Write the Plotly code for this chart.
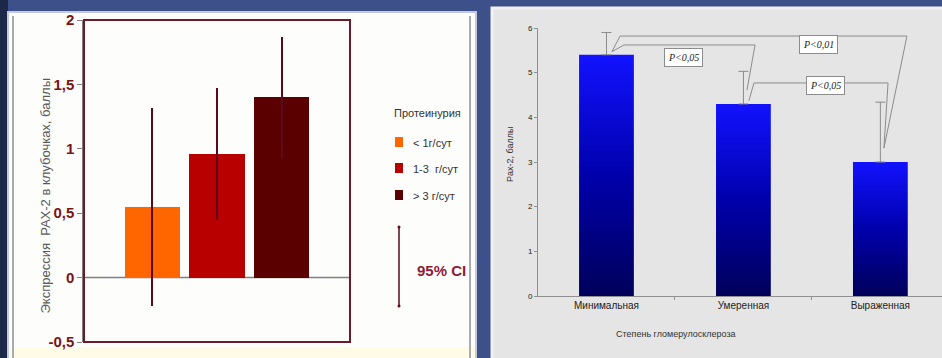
import plotly.graph_objects as go

# ---- Left chart: PAX-2 expression by proteinuria group (mean and 95% CI) ----
protein_groups = ["< 1г/сут", "1-3  г/сут", "> 3 г/сут"]
pax2_mean = [0.55, 0.96, 1.40]
ci_low = [-0.22, 0.45, 0.93]
ci_high = [1.32, 1.47, 1.87]
left_ticks = [-0.5, 0, 0.5, 1, 1.5, 2]
left_ticktext = ["-0,5", "0", "0,5", "1", "1,5", "2"]

# ---- Right chart: PAX-2 score by glomerulosclerosis degree ----
sclerosis_levels = ["Минимальная", "Умеренная", "Выраженная"]
pax2_score = [5.4, 4.3, 3.0]
score_err = [0.5, 0.73, 1.34]
right_ticks = [0, 1, 2, 3, 4, 5, 6]
# pairwise comparisons: (bar a, bar b, label, bracket level)
comparisons = [(0, 1, "P&lt;0,05", 5.62), (0, 2, "P&lt;0,01", 5.82), (1, 2, "P&lt;0,05", 4.77)]

W, H = 942, 358
group_colors = ["#ff6600", "#b80000", "#5a0000"]
ci_color = "#5a0a1a"


def px(x):
    return x / W


def py(y):
    return 1 - y / H


fig = go.Figure()

# left bars with confidence intervals
fig.add_trace(go.Bar(
    x=[0, 1, 2], y=pax2_mean, width=0.85,
    marker=dict(color=group_colors, line=dict(width=0)),
    error_y=dict(type="data", symmetric=False,
                 array=[h - m for h, m in zip(ci_high, pax2_mean)],
                 arrayminus=[m - l for m, l in zip(pax2_mean, ci_low)],
                 color=ci_color, thickness=1.6, width=0),
    xaxis="x", yaxis="y", showlegend=False, hoverinfo="skip",
))

# right bars: vertical blue gradient fill
bw = 0.4
for i, v in enumerate(pax2_score):
    fig.add_trace(go.Scatter(
        x=[i - bw / 2, i - bw / 2, i + bw / 2, i + bw / 2, i - bw / 2],
        y=[0, v, v, 0, 0],
        mode="lines", line=dict(width=0), fill="toself",
        fillgradient=dict(type="vertical",
                          colorscale=[[0, "#00005a"], [0.5, "#0000ac"], [1, "#1212ff"]]),
        xaxis="x2", yaxis="y2", showlegend=False, hoverinfo="skip",
    ))

# upper error bars for right bars
fig.add_trace(go.Scatter(
    x=[0, 1, 2], y=pax2_score, mode="markers",
    marker=dict(size=1, color="rgba(0,0,0,0)"),
    error_y=dict(type="data", symmetric=False, array=score_err,
                 arrayminus=[0, 0, 0], color="#8a8a8a", thickness=1, width=5),
    xaxis="x2", yaxis="y2", showlegend=False, hoverinfo="skip",
))

# comparison brackets
right_dx = {(0, 1): 0.085, (0, 2): 0.194, (1, 2): 0.056}
left_dx = {(0, 1): 0.128, (0, 2): 0.099, (1, 2): 0.077}
for a, b, lab, lvl in comparisons:
    xs = [a + 0.04, a + left_dx[(a, b)], b + right_dx[(a, b)], b + 0.026]
    ys = [pax2_score[a] + 0.07, lvl, lvl, pax2_score[b] + 0.31]
    fig.add_trace(go.Scatter(
        x=xs, y=ys, mode="lines", line=dict(color="#8c8c8c", width=1),
        xaxis="x2", yaxis="y2", showlegend=False, hoverinfo="skip",
    ))

shapes = []
# slide background panels
shapes.append(dict(type="rect", xref="paper", yref="paper", x0=0, x1=px(8), y0=0, y1=1,
                   fillcolor="#1d2848", line=dict(width=0), layer="below"))
shapes.append(dict(type="rect", xref="paper", yref="paper", x0=px(8), x1=px(476), y0=-0.01, y1=py(12),
                   fillcolor="#fdfdfc", line=dict(color="#c4cadb", width=2), layer="below"))
shapes.append(dict(type="rect", xref="paper", yref="paper", x0=px(9), x1=px(475), y0=-0.01, y1=py(347),
                   fillcolor="#fffbe6", line=dict(width=0), layer="below"))
for xl in (13, 470):
    shapes.append(dict(type="line", xref="paper", yref="paper", x0=px(xl), x1=px(xl), y0=0, y1=py(16),
                       line=dict(color="#a9abb3", width=2), layer="below"))
shapes.append(dict(type="rect", xref="paper", yref="paper", x0=px(492), x1=1.01, y0=-0.01, y1=py(8),
                   fillcolor="#e5e5e5", line=dict(color="#f2f2f2", width=3), layer="below"))

# left chart frame and zero line
shapes.append(dict(type="rect", xref="x domain", yref="y domain", x0=0, x1=1, y0=0, y1=1,
                   line=dict(color="#6a1a2a", width=2), layer="above"))
shapes.append(dict(type="line", xref="x domain", yref="y", x0=0, x1=1, y0=0, y1=0,
                   line=dict(color="#808080", width=1.5), layer="below"))

# manual legend for the left chart
legend_rows = [142, 168, 195]
for yy, col in zip(legend_rows, group_colors):
    shapes.append(dict(type="rect", xref="paper", yref="paper", x0=px(395), x1=px(403),
                       y0=py(yy + 5), y1=py(yy - 5), fillcolor=col, line=dict(width=0)))
shapes.append(dict(type="line", xref="paper", yref="paper", x0=px(399), x1=px(399),
                   y0=py(306), y1=py(227), line=dict(color=ci_color, width=1.5)))
for yy in (227, 306):
    shapes.append(dict(type="circle", xref="paper", yref="paper", x0=px(397.5), x1=px(400.5),
                       y0=py(yy + 1.5), y1=py(yy - 1.5), fillcolor=ci_color, line=dict(width=0)))

annotations = []
annotations.append(dict(text="Протеинурия", xref="paper", yref="paper", x=px(392), y=py(113),
                        xanchor="left", yanchor="middle", showarrow=False,
                        font=dict(family="Liberation Sans Narrow, Arial", size=11, color="#333333")))
for yy, lab in zip(legend_rows, protein_groups):
    annotations.append(dict(text=lab.replace("<", "&lt;").replace(">", "&gt;"), xref="paper", yref="paper",
                            x=px(411), y=py(yy + 1), xanchor="left", yanchor="middle", showarrow=False,
                            font=dict(family="Liberation Sans Narrow, Arial", size=11, color="#333333")))
annotations.append(dict(text="<b>95% CI</b>", xref="paper", yref="paper", x=px(415), y=py(270),
                        xanchor="left", yanchor="middle", showarrow=False,
                        font=dict(family="Liberation Sans Narrow, Arial", size=15, color="#8e1a36")))
annotations.append(dict(text="Экспрессия  PAX-2 в клубочках, баллы", xref="paper", yref="paper",
                        x=px(35), y=py(196), textangle=-90, showarrow=False,
                        font=dict(family="Liberation Sans, Arial", size=13, color="#5a5a5a")))

# right chart labels
annotations.append(dict(text="Pax-2, баллы", xref="paper", yref="paper", x=px(510), y=py(155),
                        textangle=-90, showarrow=False,
                        font=dict(family="Liberation Sans, Arial", size=9, color="#333333")))
annotations.append(dict(text="Степень гломерулосклероза", xref="paper", yref="paper",
                        x=px(738), y=py(341), showarrow=False,
                        font=dict(family="Liberation Sans, Arial", size=9, color="#333333")))
label_pos = [(0.559, 5.33), (1.545, 5.64), (1.596, 4.72)]
for (a, b, lab, lvl), (lx, ly) in zip(comparisons, label_pos):
    annotations.append(dict(text="<i>" + lab + "</i>", xref="x2", yref="y2", x=lx, y=ly,
                            showarrow=False, bgcolor="#ffffff", bordercolor="#8c8c8c",
                            borderwidth=1, borderpad=3,
                            font=dict(family="Liberation Serif, Times New Roman", size=10,
                                      color="#222222")))

fig.update_layout(
    width=W, height=H, margin=dict(l=0, r=0, t=0, b=0, autoexpand=False),
    paper_bgcolor="#3d5089", plot_bgcolor="rgba(0,0,0,0)",
    bargap=0, showlegend=False,
    shapes=shapes, annotations=annotations,
    xaxis=dict(domain=[px(84), px(350)], range=[-1.05, 3.05], showticklabels=False,
               ticks="", showgrid=False, zeroline=False, showline=False, fixedrange=True,
               automargin=False),
    yaxis=dict(domain=[py(342), py(20)], range=[-0.5, 2], tickvals=left_ticks,
               ticktext=[f"<b>{t}</b>" for t in left_ticktext], ticks="outside", ticklen=5,
               tickcolor="#808080", showgrid=False, zeroline=False, showline=True,
               linecolor="#808080", linewidth=1.5, automargin=False,
               tickfont=dict(family="Liberation Sans Narrow, Arial", size=15, color="#7a1414")),
    xaxis2=dict(domain=[px(538), 1.0], range=[-0.5, 2.45], tickvals=[0, 1, 2],
                ticktext=sclerosis_levels, ticks="", showgrid=False, zeroline=False,
                showline=True, linecolor="#909090", linewidth=1, automargin=False,
                minor=dict(tickvals=[0.5, 1.5], ticks="outside", ticklen=3, tickcolor="#909090"),
                tickfont=dict(family="Liberation Sans Narrow, Arial", size=10, color="#222222"),
                anchor="y2"),
    yaxis2=dict(domain=[py(296), py(28)], range=[0, 6], tickvals=right_ticks,
                ticks="outside", ticklen=3, tickcolor="#909090", showgrid=False,
                zeroline=False, showline=True, linecolor="#909090", linewidth=1,
                automargin=False,
                tickfont=dict(family="Liberation Sans, Arial", size=8, color="#222222"),
                anchor="x2"),
)

fig.write_html("out.html")
